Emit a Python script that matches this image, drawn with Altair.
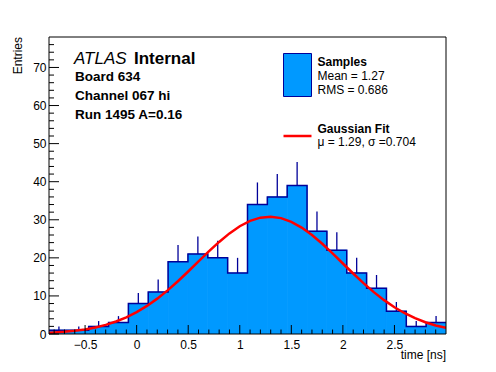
import altair as alt
import pandas as pd

# ---------------- data ----------------
edges = [-0.85, -0.6575, -0.465, -0.2725, -0.08, 0.1125, 0.305, 0.4975, 0.69, 0.8825,
         1.075, 1.2675, 1.46, 1.6525, 1.845, 2.0375, 2.23, 2.4225, 2.615, 2.8075, 3.0]
counts = [1, 1, 2, 3, 8, 11, 19, 21, 20, 16, 34, 36, 39, 27, 22, 16, 12, 6, 2, 3]
errors = [1.0, 1.0, 1.4, 1.7, 2.8, 3.3, 4.4, 4.6, 4.5, 4.0,
          5.8, 6.0, 6.2, 5.2, 4.7, 4.0, 3.5, 2.4, 1.4, 1.7]

fit_x = [-0.85, -0.8, -0.7, -0.6, -0.5, -0.4, -0.3, -0.2, -0.1, 0.0,
         0.1, 0.2, 0.3, 0.4, 0.5, 0.6, 0.7, 0.8, 0.9, 1.0,
         1.1, 1.2, 1.3, 1.4, 1.5, 1.6, 1.7, 1.8, 1.9, 2.0,
         2.1, 2.2, 2.3, 2.4, 2.5, 2.6, 2.7, 2.8, 2.9, 3.0]
fit_y = [0.30, 0.38, 0.57, 0.84, 1.21, 1.73, 2.40, 3.28, 4.39, 5.75,
         7.38, 9.29, 11.46, 13.85, 16.41, 19.06, 21.68, 24.18, 26.42, 28.30,
         29.70, 30.55, 30.80, 30.43, 29.46, 27.95, 26.00, 23.69, 21.16, 18.52,
         15.89, 13.36, 11.00, 8.89, 7.03, 5.45, 4.15, 3.09, 2.25, 1.61]

x_major = [-0.5, 0.0, 0.5, 1.0, 1.5, 2.0, 2.5]
x_minor = [-0.8, -0.7, -0.6, -0.4, -0.3, -0.2, -0.1, 0.1, 0.2, 0.3, 0.4,
           0.6, 0.7, 0.8, 0.9, 1.1, 1.2, 1.3, 1.4, 1.6, 1.7, 1.8, 1.9,
           2.1, 2.2, 2.3, 2.4, 2.6, 2.7, 2.8, 2.9]
y_major = [0, 10, 20, 30, 40, 50, 60, 70]
y_minor = [2, 4, 6, 8, 12, 14, 16, 18, 22, 24, 26, 28, 32, 34, 36, 38,
           42, 44, 46, 48, 52, 54, 56, 58, 62, 64, 66, 68, 72, 74, 76]

x_domain = [-0.85, 3.0]
y_domain = [0, 78]

# ---------------- style ----------------
W, H = 397, 297
FONT = "Liberation Sans"
FILL = "#0099ff"
NAVY = "#000099"
RED = "#ff0000"

xs = alt.Scale(domain=x_domain, nice=False, zero=False)
ys = alt.Scale(domain=y_domain, nice=False, zero=False)
xaxis = alt.Axis(values=x_major, format="~g", ticks=False, domain=False, grid=False, title=None,
                 labelFont=FONT, labelFontSize=12, labelColor="black", labelPadding=5,
                 labelFlush=False, labelOverlap=False)
yaxis = alt.Axis(values=y_major, format="d", ticks=False, domain=False, grid=False, title=None,
                 labelFont=FONT, labelFontSize=12, labelColor="black", labelPadding=3,
                 labelFlush=False, labelOverlap=False)


def X(f):
    return alt.X(f, scale=xs, axis=xaxis)


def Y(f):
    return alt.Y(f, scale=ys, axis=yaxis)


hist = pd.DataFrame({
    "lo": edges[:-1], "hi": edges[1:], "n": counts,
    "c": [(a + b) / 2 for a, b in zip(edges[:-1], edges[1:])],
    "top": [n + e for n, e in zip(counts, errors)],
})
step = pd.DataFrame({"x": edges, "y": counts + [counts[-1]]})
fit = pd.DataFrame({"x": fit_x, "y": fit_y})

bars = alt.Chart(hist).mark_rect(fill=FILL, stroke=FILL, strokeWidth=0.8, clip=True).encode(
    x=X("lo:Q"), x2="hi:Q", y=Y("n:Q"), y2=alt.datum(0),
)

outline = alt.Chart(step).mark_line(
    interpolate="step-after", color=NAVY, strokeWidth=1.5, clip=True
).encode(x=X("x:Q"), y=Y("y:Q"))

errbars = alt.Chart(hist).mark_rule(color=NAVY, strokeWidth=1.3, clip=True).encode(
    x=X("c:Q"), y=Y("n:Q"), y2="top:Q",
)

curve = alt.Chart(fit).mark_line(color=RED, strokeWidth=2.5, clip=True).encode(
    x=X("x:Q"), y=Y("y:Q"),
)


def xticks(vals, length):
    return alt.Chart(pd.DataFrame({"v": vals})).mark_rule(color="black", strokeWidth=1).encode(
        x=X("v:Q"), y=alt.value(H), y2=alt.value(H - length),
    )


def yticks(vals, length):
    return alt.Chart(pd.DataFrame({"v": vals})).mark_rule(color="black", strokeWidth=1).encode(
        y=Y("v:Q"), x=alt.value(0), x2=alt.value(length),
    )


one = pd.DataFrame({"k": [0]})

frame = alt.Chart(one).mark_rect(filled=False, stroke="black", strokeWidth=1).encode(
    x=alt.value(0), x2=alt.value(W), y=alt.value(0), y2=alt.value(H),
)


def label(text, x, y, size=12, weight="normal", style="normal", align="left",
          angle=0, baseline="alphabetic"):
    return alt.Chart(pd.DataFrame({"t": [text]})).mark_text(
        font=FONT, fontSize=size, fontWeight=weight, fontStyle=style,
        align=align, baseline=baseline, angle=angle, color="black",
    ).encode(text="t:N", x=alt.value(x), y=alt.value(y))


legend_box = alt.Chart(one).mark_rect(fill=FILL, stroke=NAVY, strokeWidth=1).encode(
    x=alt.value(234.5), x2=alt.value(262.5), y=alt.value(16.5), y2=alt.value(59.5),
)
legend_line = alt.Chart(one).mark_rule(color=RED, strokeWidth=2.5).encode(
    x=alt.value(234.5), x2=alt.value(262.5), y=alt.value(99),
)

texts = [
    label("ATLAS", 25, 27, size=17, style="italic"),
    label("Internal", 85, 27, size=17, weight="bold"),
    label("Board 634", 26, 44, size=13.5, weight="bold"),
    label("Channel 067 hi", 26, 63, size=13.5, weight="bold"),
    label("Run 1495 A=0.16", 26, 82, size=13.5, weight="bold"),
    label("Samples", 268.5, 29, size=12, weight="bold"),
    label("Mean = 1.27", 268.5, 43, size=12),
    label("RMS = 0.686", 268.5, 57, size=12),
    label("Gaussian Fit", 268.5, 96, size=12, weight="bold"),
    label("\u03bc = 1.29, \u03c3 =0.704", 268.5, 109, size=12),
    label("time [ns]", W, 322, size=12, align="right"),
    label("Entries", -31, 0, size=12, align="right", angle=270, baseline="middle"),
]

chart = alt.layer(
    bars, outline, errbars, curve,
    xticks(x_minor, 4.5), xticks(x_major, 9),
    yticks(y_minor, 5), yticks(y_major, 10),
    frame, legend_box, legend_line, *texts,
).properties(
    width=W, height=H,
    autosize=alt.AutoSizeParams(type="none"),
    padding={"left": 41, "top": 29, "right": 42, "bottom": 30},
    background="white",
).configure_view(stroke=None)

chart.save("out.html", embed_options={"renderer": "svg", "actions": False})
